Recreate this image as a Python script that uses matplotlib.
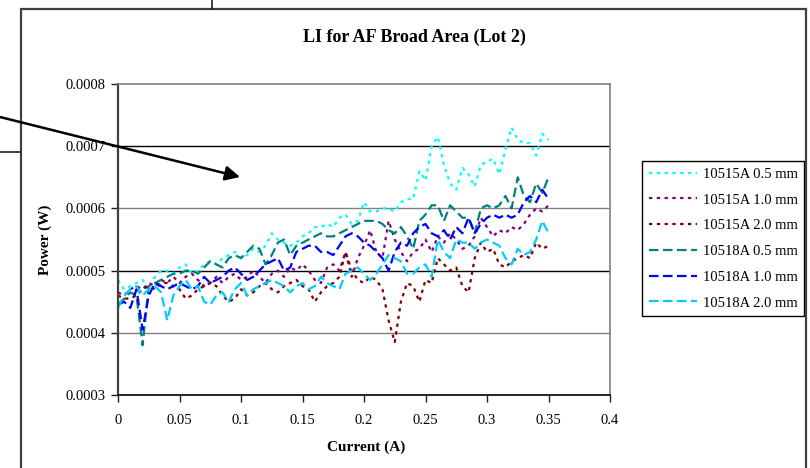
import numpy as np
import matplotlib.pyplot as plt
from matplotlib.patches import Rectangle, FancyArrowPatch
from matplotlib.lines import Line2D

plt.rcParams['font.family'] = ['Liberation Serif', 'DejaVu Serif']

# Ток (A), шаг 0.005
current = [0.000, 0.005, 0.010, 0.015, 0.020, 0.025, 0.030, 0.035, 0.040, 0.045,
           0.050, 0.055, 0.060, 0.065, 0.070, 0.075, 0.080, 0.085, 0.090, 0.095,
           0.100, 0.105, 0.110, 0.115, 0.120, 0.125, 0.130, 0.135, 0.140, 0.145,
           0.150, 0.155, 0.160, 0.165, 0.170, 0.175, 0.180, 0.185, 0.190, 0.195,
           0.200, 0.205, 0.210, 0.215, 0.220, 0.225, 0.230, 0.235, 0.240, 0.245,
           0.250, 0.255, 0.260, 0.265, 0.270, 0.275, 0.280, 0.285, 0.290, 0.295,
           0.300, 0.305, 0.310, 0.315, 0.320, 0.325, 0.330, 0.335, 0.340, 0.345,
           0.350]

# Мощность, единицы 1e-4 W
p_10515_05 = [4.85, 4.70, 4.75, 4.80, 4.85, 4.70, 4.90, 5.00, 5.00, 4.95,
              5.05, 5.10, 4.95, 5.00, 5.10, 5.15, 5.10, 5.20, 5.25, 5.30,
              5.20, 5.25, 5.35, 5.30, 5.40, 5.60, 5.50, 5.45, 5.40, 5.45,
              5.55, 5.60, 5.70, 5.70, 5.75, 5.70, 5.85, 5.90, 5.75, 5.80,
              6.10, 5.95, 5.95, 6.00, 6.00, 5.95, 6.10, 6.15, 6.15, 6.60,
              6.45, 7.00, 7.15, 6.70, 6.40, 6.30, 6.65, 6.55, 6.35, 6.70,
              6.75, 6.80, 6.55, 6.95, 7.30, 7.10, 7.05, 7.05, 6.85, 7.20,
              7.10]
p_10515_10 = [4.65, 4.60, 4.70, 4.75, 4.70, 4.80, 4.75, 4.85, 4.80, 4.90,
              4.80, 4.90, 4.95, 4.85, 4.75, 4.80, 4.90, 4.80, 4.90, 4.95,
              4.85, 4.90, 5.00, 4.90, 4.80, 4.95, 5.00, 4.90, 5.05, 5.00,
              5.10, 5.00, 4.85, 4.80, 5.05, 5.10, 5.00, 5.30, 4.90, 5.20,
              5.40, 5.65, 5.30, 5.20, 5.80, 5.50, 5.30, 5.15, 5.30, 5.35,
              5.50, 5.30, 5.55, 5.45, 5.60, 5.50, 5.35, 5.40, 5.55, 5.85,
              5.70, 5.55, 5.65, 5.60, 5.70, 5.65, 5.75, 5.90, 6.00, 5.95,
              6.05]
p_10515_20 = [4.60, 4.55, 4.55, 4.60, 4.70, 4.75, 4.70, 4.80, 4.80, 4.75,
              4.70, 4.55, 4.60, 4.70, 4.75, 4.80, 4.75, 4.60, 4.50, 4.55,
              4.70, 4.60, 4.65, 4.75, 4.80, 4.70, 4.65, 4.75, 4.80, 4.85,
              4.75, 4.70, 4.50, 4.65, 4.75, 4.80, 4.90, 5.30, 5.00, 4.85,
              4.80, 4.90, 4.85, 4.70, 4.20, 3.85, 4.50, 4.80, 4.75, 4.50,
              4.85, 4.80, 5.20, 5.10, 5.00, 5.05, 4.75, 4.65, 5.20, 5.45,
              5.30, 5.35, 5.10, 5.05, 5.15, 5.20, 5.25, 5.20, 5.45, 5.35,
              5.40]
p_10518_05 = [4.45, 4.55, 4.65, 4.60, 3.80, 4.75, 4.80, 4.85, 4.90, 4.95,
              4.95, 5.00, 5.00, 4.95, 5.05, 5.15, 5.10, 5.05, 5.20, 5.25,
              5.20, 5.30, 5.40, 5.35, 5.10, 5.25, 5.45, 5.50, 5.25, 5.40,
              5.45, 5.50, 5.55, 5.60, 5.55, 5.55, 5.60, 5.65, 5.70, 5.75,
              5.80, 5.80, 5.80, 5.75, 5.65, 5.60, 5.70, 5.55, 5.35, 5.80,
              5.90, 6.05, 6.05, 5.80, 6.05, 5.95, 5.85, 5.85, 5.60, 6.00,
              6.05, 6.00, 6.05, 6.20, 6.00, 6.50, 6.20, 6.10, 6.40, 6.25,
              6.50]
p_10518_10 = [4.45, 4.50, 4.40, 4.70, 4.05, 4.60, 4.80, 4.75, 4.70, 4.75,
              4.80, 4.75, 4.70, 4.75, 4.90, 4.80, 4.85, 4.90, 5.00, 5.05,
              4.95, 4.85, 4.90, 5.00, 5.10, 5.15, 5.20, 5.00, 5.05, 5.30,
              5.35, 5.40, 5.40, 5.30, 5.30, 5.25, 5.40, 5.55, 5.60, 5.55,
              5.45, 5.40, 5.30, 5.20, 5.00, 5.30, 5.45, 5.40, 5.60, 5.70,
              5.75, 5.60, 5.55, 5.65, 5.50, 5.70, 5.60, 5.85, 5.60, 5.75,
              5.85, 5.90, 5.85, 5.90, 5.85, 5.90, 6.10, 6.20, 6.10, 6.30,
              6.15]
p_10518_20 = [4.40, 4.60, 4.70, 4.75, 4.60, 4.70, 4.75, 4.65, 4.20, 4.60,
              4.75, 4.85, 4.70, 4.75, 4.50, 4.45, 4.60, 4.65, 4.50, 4.70,
              4.80, 4.60, 4.70, 4.75, 4.80, 4.85, 4.80, 4.75, 4.65, 4.75,
              4.80, 4.70, 4.75, 4.90, 4.80, 4.75, 4.70, 4.95, 5.00, 5.05,
              4.95, 4.85, 4.95, 5.10, 5.25, 5.20, 5.15, 4.95, 4.95, 5.05,
              5.10, 4.90, 5.50, 5.30, 5.20, 5.50, 5.45, 5.45, 5.35, 5.45,
              5.50, 5.45, 5.40, 5.20, 5.10, 5.35, 5.25, 5.30, 5.50, 5.80,
              5.60]

labels = ['10515A 0.5 mm', '10515A 1.0 mm', '10515A 2.0 mm',
          '10518A 0.5 mm', '10518A 1.0 mm', '10518A 2.0 mm']
series = [p_10515_05, p_10515_10, p_10515_20, p_10518_05, p_10518_10, p_10518_20]
colors = ['#00FFFF', '#800080', '#800000', '#008080', '#0000FF', '#00CCFF']
dot = (0, (1.5, 2.0))
dash = (0, (4.3, 2.0))
styles = [dot, dot, dot, dash, dash, dash]

W, H = 810, 468
fig = plt.figure(figsize=(8.1, 4.68), dpi=100)
ax = fig.add_axes([118 / W, 1 - 395 / H, (610 - 118) / W, (395 - 84) / H])

x = np.array(current)
for p, lab, c, ls in zip(series, labels, colors, styles):
    ax.plot(x, np.array(p) * 1e-4, color=c, linestyle=ls, lw=1.6, label=lab)

ax.set_xlim(0, 0.4)
ax.set_ylim(0.0003, 0.0008)
ax.set_xticks(np.arange(0, 0.401, 0.05))
ax.set_xticklabels(['0', '0.05', '0.1', '0.15', '0.2', '0.25', '0.3', '0.35', '0.4'])
ax.set_yticks([0.0003, 0.0004, 0.0005, 0.0006, 0.0007, 0.0008])
ax.set_yticklabels(['0.0003', '0.0004', '0.0005', '0.0006', '0.0007', '0.0008'])
ax.tick_params(direction='out', length=5, width=1, labelsize=10.5, color='#202020')
ax.tick_params(axis='x', pad=9)
ax.tick_params(axis='y', pad=4)

# горизонтальная сетка
for yv, gc in [(0.0004, '#808080'), (0.0005, '#000000'), (0.0006, '#808080'), (0.0007, '#000000')]:
    ax.axhline(yv, color=gc, lw=1, zorder=0.5)

for s in ['top', 'right']:
    ax.spines[s].set_color('#808080')
    ax.spines[s].set_linewidth(1.2)
ax.spines['left'].set_color('#404040')
ax.spines['left'].set_linewidth(1.6)
ax.spines['bottom'].set_color('#000000')
ax.spines['bottom'].set_linewidth(1.2)

fig.text(414 / W, 1 - 37 / H, 'LI for AF Broad Area (Lot 2)', ha='center', va='center',
         fontsize=13, fontweight='bold')
fig.text(366 / W, 1 - 447 / H, 'Current (A)', ha='center', va='center',
         fontsize=11, fontweight='bold')
fig.text(45 / W, 1 - 240 / H, 'Power (W)', ha='center', va='center', rotation=90,
         fontsize=11, fontweight='bold')

leg = ax.legend(loc='upper left', bbox_to_anchor=(642 / W, 1 - 161 / H),
                bbox_transform=fig.transFigure, borderaxespad=0, fontsize=10.5,
                frameon=True, fancybox=False, edgecolor='#000000', framealpha=1,
                handlelength=3.3, handletextpad=0.4, labelspacing=0.86, borderpad=0.45)
leg.get_frame().set_linewidth(1.0)

# рамка диаграммы и линии вокруг
fig.add_artist(Rectangle((21 / W, -0.1), (806 - 21) / W, 1 - 9 / H + 0.1,
                         transform=fig.transFigure, fill=False, ec='#404040', lw=1.6))
fig.add_artist(Line2D([212 / W, 212 / W], [1, 1 - 9 / H], transform=fig.transFigure,
                      color='#202020', lw=1.2))
fig.add_artist(Line2D([0, 21 / W], [1 - 152 / H, 1 - 152 / H], transform=fig.transFigure,
                      color='#202020', lw=1.2))
fig.add_artist(FancyArrowPatch((0, 1 - 117 / H), (240 / W, 1 - 177 / H),
                               transform=fig.transFigure, arrowstyle='-|>',
                               mutation_scale=22, lw=1.8, color='black',
                               shrinkA=0, shrinkB=0))

fig.savefig('out.png', dpi=100)
